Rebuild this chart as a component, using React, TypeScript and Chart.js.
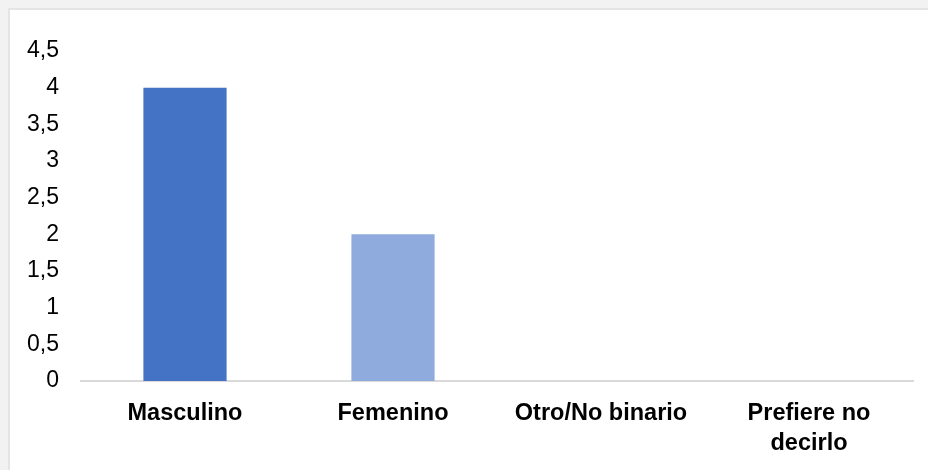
import React, { useEffect, useRef } from "react";
import { Chart, registerables } from "chart.js";

Chart.register(...registerables);

const categories: (string | string[])[] = ["Masculino", "Femenino", "Otro/No binario", ["Prefiere no", "decirlo"]];
const values: number[] = [4, 2, 0, 0];
const barColors: string[] = ["#4472C4", "#8FAADC", "#4472C4", "#4472C4"];
const yTicks: number[] = [0, 0.5, 1, 1.5, 2, 2.5, 3, 3.5, 4, 4.5];

export default function App() {
  const ref = useRef<HTMLCanvasElement | null>(null);

  useEffect(() => {
    document.body.style.margin = "0";
    const canvas = ref.current;
    if (!canvas) return;
    const chart = new Chart(canvas, {
      type: "bar",
      data: {
        labels: categories,
        datasets: [
          {
            data: values,
            backgroundColor: barColors,
            borderWidth: 0,
            barPercentage: 0.4,
            categoryPercentage: 1,
          },
        ],
      },
      options: {
        animation: false,
        responsive: false,
        devicePixelRatio: 1,
        layout: { padding: { top: 41, right: 15, bottom: 0, left: 0 } },
        plugins: { legend: { display: false }, tooltip: { enabled: false } },
        scales: {
          x: {
            grid: { display: false, drawTicks: false },
            border: { display: true, color: "#d9d9d9", width: 2 },
            ticks: {
              color: "#000",
              padding: 17,
              maxRotation: 0,
              autoSkip: false,
              font: { family: "'Liberation Sans', Arial, sans-serif", size: 23.5, weight: "bold", lineHeight: 1.28 },
            },
            afterFit: (s: any) => {
              s.height = 89;
            },
          },
          y: {
            min: 0,
            max: 4.5,
            afterBuildTicks: (s: any) => {
              s.ticks = yTicks.map((v) => ({ value: v }));
            },
            grid: { display: false, drawTicks: false },
            border: { display: false },
            ticks: {
              color: "#000",
              padding: 22,
              font: { family: "'Liberation Sans', Arial, sans-serif", size: 23 },
              callback: (v: any) => String(v).replace(".", ","),
            },
            afterFit: (s: any) => {
              s.width = 71;
            },
          },
        },
      },
    });
    return () => chart.destroy();
  }, []);

  return (
    <div style={{ position: "relative", width: 928, height: 470, background: "#f2f2f2", overflow: "hidden" }}>
      <div
        style={{
          position: "absolute",
          left: 8,
          top: 8,
          width: 920,
          height: 462,
          background: "#fff",
          borderLeft: "2px solid #e4e4e4",
          borderTop: "2px solid #e4e4e4",
        }}
      >
        <canvas ref={ref} width={918} height={460} style={{ display: "block" }} />
      </div>
    </div>
  );
}
